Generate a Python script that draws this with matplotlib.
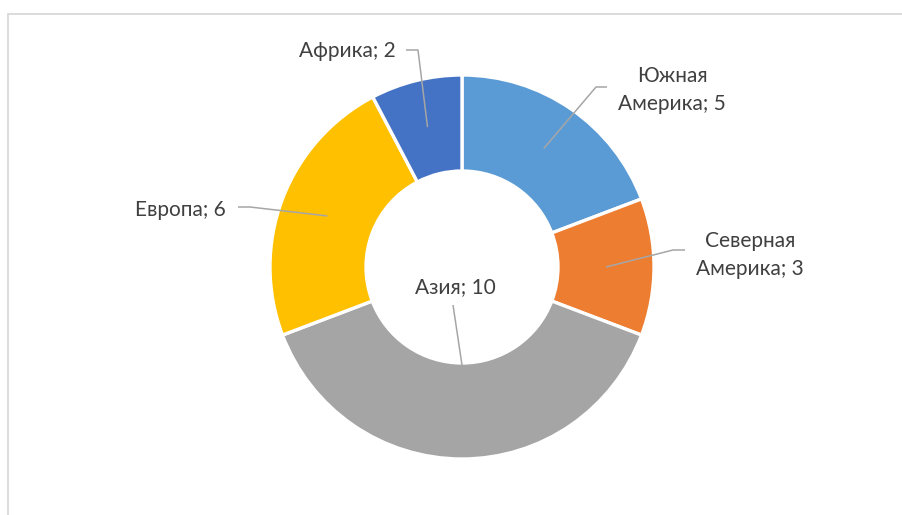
import numpy as np
import matplotlib
matplotlib.use("Agg")
import matplotlib.pyplot as plt
from matplotlib.patches import Rectangle

# ---- data ----
categories = ["Южная\nАмерика", "Северная\nАмерика", "Азия", "Европа", "Африка"]
values = [5, 3, 10, 6, 2]
colors = ["#5B9BD5", "#ED7D31", "#A5A5A5", "#FFC000", "#4472C4"]

W, H = 903, 515
fig = plt.figure(figsize=(W / 100, H / 100), dpi=100)
ax = fig.add_axes([0, 0, 1, 1])

def Y(y):  # pixel-from-top -> data
    return H - y

cx, cy, R, ring = 462, Y(267), 192, 0.5
wedges, _ = ax.pie(values, colors=colors, startangle=90, counterclock=False,
                   radius=R, center=(cx, cy), frame=True,
                   wedgeprops=dict(width=R * ring, edgecolor="white", linewidth=2.4))
ax.set_xlim(0, W)
ax.set_ylim(0, H)
ax.set_aspect("equal")
ax.axis("off")

# chart frame
ax.add_patch(Rectangle((8.5, Y(600)), 1000, Y(13.5) - Y(600), fill=False,
                       edgecolor="#D9D9D9", linewidth=1.3, zorder=0))

# label layout: (text center x, text center y px, leader path points in px)
layout = {
    "Южная\nАмерика": dict(pos=(672, 90), path=[(607, 87), (596, 87)], anchor="mid"),
    "Северная\nАмерика": dict(pos=(750, 255), path=[(685, 250), (673, 250)], anchor="mid"),
    "Азия": dict(pos=(455, 287), path=[(453, 305)], anchor="inner"),
    "Европа": dict(pos=(180, 210), path=[(238, 207), (250, 207)], anchor="mid"),
    "Африка": dict(pos=(347, 51), path=[(406, 50), (418, 50)], anchor="mid"),
}

for w, cat, v in zip(wedges, categories, values):
    lay = layout[cat]
    ang = np.deg2rad((w.theta1 + w.theta2) / 2)
    r = R * (1 - ring / 2) if lay["anchor"] == "mid" else R * (1 - ring) + 2
    ax_, ay_ = cx + r * np.cos(ang), cy + r * np.sin(ang)
    xs = [p[0] for p in lay["path"]] + [ax_]
    ys = [Y(p[1]) for p in lay["path"]] + [ay_]
    ax.plot(xs, ys, color="#A6A6A6", linewidth=1.1, solid_capstyle="butt", zorder=5)
    ax.text(lay["pos"][0], Y(lay["pos"][1]), f"{cat}; {v}", ha="center", va="center",
            fontsize=15, color="#404040", family="Lato", linespacing=1.5, zorder=6)

fig.savefig("out.png", dpi=100)
